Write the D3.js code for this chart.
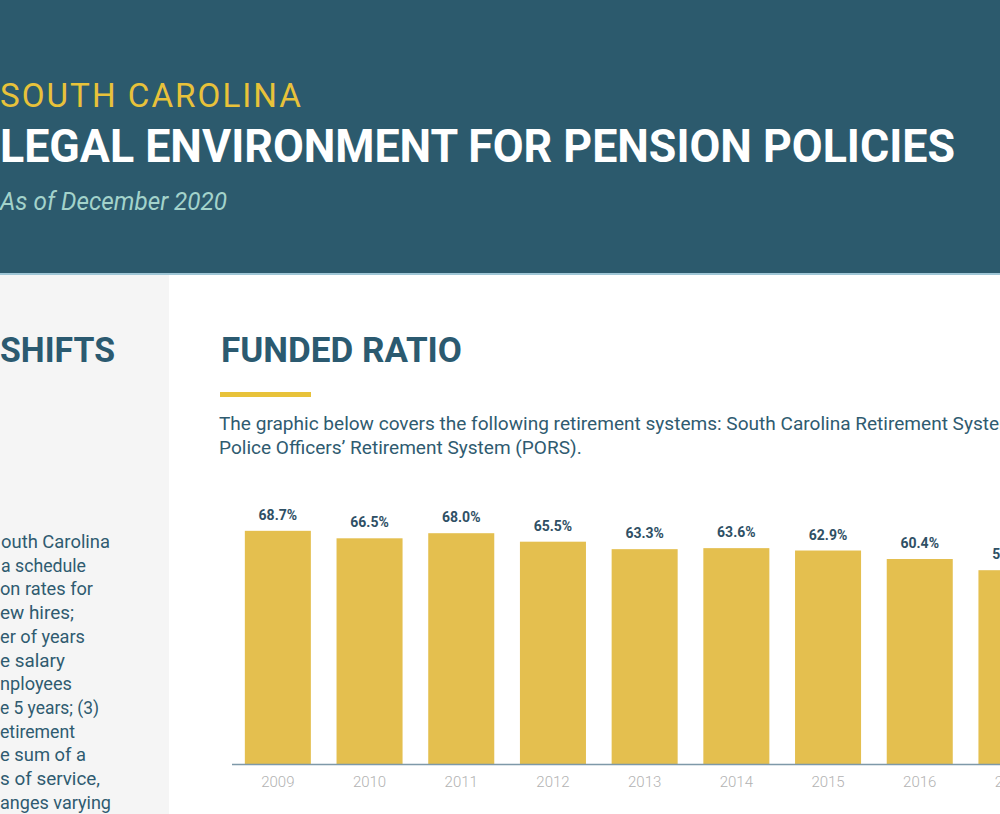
<!DOCTYPE html>
<html>
<head>
<meta charset="utf-8">
<script src="https://cdn.jsdelivr.net/npm/d3@7"></script>
<style>
  html, body { margin: 0; padding: 0; overflow: hidden; background: #fff; }
  svg { display: block; font-family: Roboto, "DejaVu Sans", sans-serif; }
</style>
</head>
<body>
<div id="chart"></div>
<script>
// Chart data
const years = ["2009", "2010", "2011", "2012", "2013", "2014", "2015", "2016", "2017"];
const fundedRatio = [68.7, 66.5, 68.0, 65.5, 63.3, 63.6, 62.9, 60.4, 57.1];

// Page texts
const stateName = "SOUTH CAROLINA";
const pageTitle = "LEGAL ENVIRONMENT FOR PENSION POLICIES";
const pageDate = "As of December 2020";
const sideHeading = "SHIFTS";
const sideLines = ["outh Carolina", "a schedule", "on rates for", "ew hires;", "er of years",
  "e salary", "nployees", "e 5 years; (3)", "etirement", "e sum of a", "s of service,", "anges varying"];
const sideLeft = [1, 1, 0, 0, 0, 0, 0, 0, 0, 0, 0, 0];
const sideRight = [110, 86, 93, 74, 85, 65, 72, 99, 75, 86, 100, 111];
const chartTitle = "FUNDED RATIO";
const introLines = [
  "The graphic below covers the following retirement systems: South Carolina Retirement System (SCRS) and",
  "Police Officers\u2019 Retirement System (PORS)."
];

const width = 1000, height = 814;

const svg = d3.select("#chart").append("svg")
  .attr("width", width)
  .attr("height", height);

// Header band
svg.append("rect").attr("x", 0).attr("y", 0).attr("width", width).attr("height", 274)
  .style("fill", "#2c5a6d");
svg.append("rect").attr("x", 0).attr("y", 273).attr("width", width).attr("height", 2)
  .style("fill", "#9fc6d6");

// Left side panel
svg.append("rect").attr("x", 0).attr("y", 275).attr("width", 169).attr("height", height - 275)
  .style("fill", "#f5f5f5");

svg.append("text")
  .attr("x", 0).attr("y", 107)
  .attr("textLength", 303).attr("lengthAdjust", "spacingAndGlyphs")
  .style("font-size", "33px").style("letter-spacing", "2px")
  .style("fill", "#e8c23a")
  .text(stateName);

svg.append("text")
  .attr("x", 0).attr("y", 162)
  .attr("textLength", 955).attr("lengthAdjust", "spacingAndGlyphs")
  .style("font-size", "46px").style("font-weight", "bold")
  .style("fill", "#ffffff")
  .text(pageTitle);

svg.append("text")
  .attr("x", 0).attr("y", 210)
  .attr("textLength", 227).attr("lengthAdjust", "spacingAndGlyphs")
  .style("font-size", "26px").style("font-style", "italic")
  .style("fill", "#a3d3cb")
  .text(pageDate);

// Side heading and cut-off text
svg.append("text")
  .attr("x", 0).attr("y", 362)
  .attr("textLength", 115).attr("lengthAdjust", "spacingAndGlyphs")
  .style("font-size", "35px").style("font-weight", "bold")
  .style("fill", "#2b5a70")
  .text(sideHeading);

svg.append("g").selectAll("text")
  .data(sideLines)
  .enter()
  .append("text")
  .attr("x", (d, i) => sideLeft[i])
  .attr("y", (d, i) => 548 + i * 23.7)
  .attr("textLength", (d, i) => sideRight[i] - sideLeft[i])
  .attr("lengthAdjust", "spacingAndGlyphs")
  .style("font-size", "18px")
  .style("fill", "#2f5b70")
  .text(d => d);

// Chart heading
svg.append("text")
  .attr("x", 221).attr("y", 362)
  .attr("textLength", 241).attr("lengthAdjust", "spacingAndGlyphs")
  .style("font-size", "35px").style("font-weight", "bold")
  .style("fill", "#2b5a70")
  .text(chartTitle);

svg.append("rect").attr("x", 220).attr("y", 392).attr("width", 91).attr("height", 5)
  .style("fill", "#e8c23a");

// Intro paragraph, font size fitted to the second line width
const intro = svg.append("g").selectAll("text")
  .data(introLines)
  .enter()
  .append("text")
  .attr("x", 219)
  .attr("y", (d, i) => 430 + i * 24)
  .style("font-size", "17px")
  .style("fill", "#2f5b70")
  .text(d => d);
const natural = intro.nodes()[1].getComputedTextLength();
intro.style("font-size", (17 * 363 / natural) + "px");

// Bar chart
const x = d3.scaleBand()
  .domain(years)
  .range([232, 232 + years.length * 91.7])
  .paddingInner(0.28)
  .paddingOuter(0.14);

const y = d3.scaleLinear()
  .domain([0, 100])
  .range([764, 764 - 339.4]);

const g = svg.append("g");

g.selectAll(".bar")
  .data(fundedRatio)
  .enter()
  .append("rect")
  .attr("class", "bar")
  .attr("x", (d, i) => x(years[i]))
  .attr("y", d => y(d))
  .attr("width", x.bandwidth())
  .attr("height", d => y(0) - y(d))
  .style("fill", "#e4bf4f");

g.selectAll(".value")
  .data(fundedRatio)
  .enter()
  .append("text")
  .attr("class", "value")
  .attr("x", (d, i) => x(years[i]) + x.bandwidth() / 2)
  .attr("y", d => y(d) - 11)
  .attr("text-anchor", "middle")
  .style("font-size", "14px")
  .style("font-weight", "bold")
  .style("fill", "#2f5065")
  .text(d => d.toFixed(1) + "%");

// Baseline and year labels
const axis = g.append("g")
  .attr("transform", `translate(0,${y(0)})`)
  .call(d3.axisBottom(x).tickSize(0).tickPadding(12));
axis.select(".domain").attr("d", `M232,0.5H${width}`).style("stroke", "#7e99a9").style("stroke-width", "1.5px");
axis.selectAll("text")
  .style("font-size", "15px")
  .style("font-family", "Roboto, sans-serif")
  .style("font-weight", "300")
  .style("fill", "#b2b2b2");
</script>
</body>
</html>
